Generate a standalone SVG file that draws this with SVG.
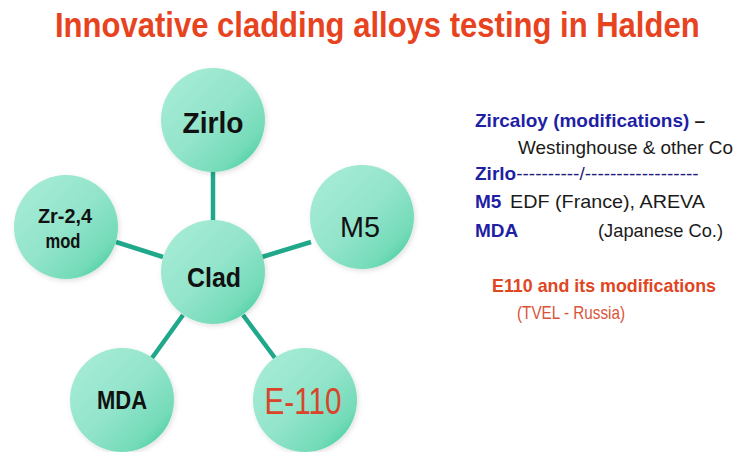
<svg xmlns="http://www.w3.org/2000/svg" width="737" height="452" viewBox="0 0 737 452">
<defs>
<linearGradient id="ball" x1="0" y1="0" x2="1" y2="1">
<stop offset="0" stop-color="#abedd9"/>
<stop offset="0.5" stop-color="#92e4ca"/>
<stop offset="0.78" stop-color="#74dbb9"/>
<stop offset="1" stop-color="#2fc794"/>
</linearGradient>
<filter id="sh" x="-20%" y="-20%" width="140%" height="140%">
<feDropShadow dx="1.5" dy="2" stdDeviation="2.5" flood-color="#000" flood-opacity="0.12"/>
</filter>
</defs>
<style>
.node circle{fill:url(#ball);filter:url(#sh)}
.lbl{font-family:"Liberation Sans Narrow","Liberation Sans",Arial,sans-serif;text-anchor:middle;fill:#111}
.b{font-weight:bold}
.conn line{stroke:#1fa98a;stroke-width:4.5;stroke-linecap:butt}
.rt{font-family:"Liberation Sans",Arial,sans-serif;font-size:19px;fill:#1a1a1a}
.blue{fill:#1f1fa6;font-weight:bold}
.red{fill:#e0461f}
</style>
<rect width="737" height="452" fill="#fff"/>
<text transform="translate(55,37) scale(0.862,1)" x="0" y="0" font-family="'Liberation Sans Narrow','Liberation Sans',Arial,sans-serif" font-weight="bold" font-size="36" fill="#e8431f">Innovative cladding alloys testing in Halden</text>
<g id="connectors" class="conn">
<line x1="213" y1="170" x2="213" y2="222"/>
<line x1="116" y1="242" x2="163" y2="257"/>
<line x1="311" y1="242" x2="262" y2="257"/>
<line x1="183" y1="315" x2="152" y2="358"/>
<line x1="243" y1="315" x2="275" y2="358"/>
</g>
<g id="zirlo" class="node"><circle cx="213" cy="120" r="52"/><text class="lbl b" x="213" y="133" font-size="29" textLength="61" lengthAdjust="spacingAndGlyphs">Zirlo</text></g>
<g id="zr24" class="node"><circle cx="66" cy="227" r="52"/><text class="lbl b" x="65" y="223" font-size="20" textLength="54" lengthAdjust="spacingAndGlyphs">Zr-2,4</text><text class="lbl b" x="63" y="248" font-size="20" textLength="35" lengthAdjust="spacingAndGlyphs">mod</text></g>
<g id="m5" class="node"><circle cx="362" cy="217" r="52"/><text class="lbl" x="360" y="237" font-size="30" textLength="40" lengthAdjust="spacingAndGlyphs">M5</text></g>
<g id="clad" class="node"><circle cx="213" cy="272" r="52"/><text class="lbl b" x="214" y="287" font-size="28" textLength="54" lengthAdjust="spacingAndGlyphs">Clad</text></g>
<g id="mda" class="node"><circle cx="122" cy="400" r="52"/><text class="lbl b" x="122" y="409" font-size="26" textLength="50" lengthAdjust="spacingAndGlyphs">MDA</text></g>
<g id="e110" class="node"><circle cx="305" cy="400" r="52"/><text class="lbl" x="303" y="414" font-size="36" textLength="77" lengthAdjust="spacingAndGlyphs" style="fill:#d9452a">E-110</text></g>
<g id="legend">
<text class="rt" x="475" y="127"><tspan class="blue">Zircaloy (modifications)</tspan><tspan font-weight="bold"> –</tspan></text>
<text class="rt" x="518" y="154" textLength="215" lengthAdjust="spacingAndGlyphs">Westinghouse &amp; other Co</text>
<text class="rt" x="475" y="180"><tspan class="blue">Zirlo</tspan><tspan fill="#1f1f80">----------/------------------</tspan></text>
<text class="rt" x="475" y="208"><tspan class="blue">M5</tspan></text>
<text class="rt" x="510" y="208" textLength="195" lengthAdjust="spacingAndGlyphs">EDF (France), AREVA</text>
<text class="rt" x="475" y="237"><tspan class="blue">MDA</tspan></text>
<text class="rt" x="598" y="237" textLength="125" lengthAdjust="spacingAndGlyphs">(Japanese Co.)</text>
<text class="rt red" x="492" y="292" font-weight="bold" textLength="224" lengthAdjust="spacingAndGlyphs">E110 and its modifications</text>
<text class="rt" x="517" y="319" style="fill:#d9553a" textLength="108" lengthAdjust="spacingAndGlyphs">(TVEL - Russia)</text>
</g>
</svg>
